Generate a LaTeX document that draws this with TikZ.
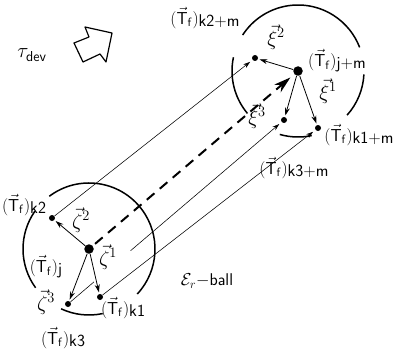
\documentclass[tikz,border=0pt]{standalone}
\usepackage{tikz}
\usetikzlibrary{arrows.meta,calc}
\tikzset{
  nd_big/.style={
    circle, fill=black, minimum size=9.5pt, inner sep=0pt},
  nd_pt/.style={
    circle, fill=black, minimum size=6pt, inner sep=0pt},
  ball/.style={line width=1.5pt},
  vec/.style={-{Stealth[length=8pt,width=5pt]},line width=0.8pt,shorten >=1.5pt},
  map/.style={-{Stealth[length=7pt,width=4.5pt]},line width=0.55pt,shorten >=3pt},
  dmap/.style={-{Stealth[length=17pt,width=10pt]},line width=2pt,
    dash pattern=on 10pt off 7pt,shorten >=5pt,shorten <=3pt},
  lbl/.style={font=\fontsize{17}{19}\selectfont,inner sep=0.5pt},
  glbl/.style={font=\fontsize{21}{23}\selectfont,inner sep=0.5pt},
}
\newcommand{\Tf}[1]{$(\vec{\mathsf{T}}_{\mathsf{f}})$\raisebox{-2.5pt}{\textsf{#1}}}

\begin{document}
\begin{tikzpicture}[x=1pt,y=-1pt]
\useasboundingbox (0,0) rectangle (396,353);

%% lower ball
\node[nd_big] at (89,249)  (j){};
\node[nd_pt]  at (52,218)  (k2){};
\node[nd_pt]  at (100,297) (k1){};
\node[nd_pt]  at (68,304)  (k3){};

%% upper ball
\node[nd_big] at (298,71)  (jm){};
\node[nd_pt]  at (255,58)  (k2m){};
\node[nd_pt]  at (284,120) (k3m){};
\node[nd_pt]  at (318,128) (k1m){};

% outlines, open where the labels sit
\draw[ball] (j.center) ++(-127:66) arc[start angle=-127,end angle=43,radius=66];
\draw[ball] (j.center) ++(144:66) arc[start angle=144,end angle=215,radius=66];
\draw[ball] (j.center) ++(78:66) arc[start angle=78,end angle=115,radius=66];
\draw[ball] (jm.center) ++(-147:66) arc[start angle=-147,end angle=-21,radius=66];
\draw[ball] (jm.center) ++(3:66) arc[start angle=3,end angle=42,radius=66];
\draw[ball] (jm.center) ++(78:66) arc[start angle=78,end angle=106,radius=66];
\draw[ball] (jm.center) ++(140:66) arc[start angle=140,end angle=192,radius=66];

%% labels
\node[glbl] at (32,55)   (tdev){$\tau_{\mathsf{dev}}$};
\node[lbl]  at (24,205)  (Lk2){\Tf{k2}};
\node[glbl] at (81,220)  (Lz2){$\vec{\zeta}^{2}$};
\node[lbl]  at (46,267)  (Lj){\Tf{j}};
\node[glbl] at (108,257) (Lz1){$\vec{\zeta}^{1}$};
\node[glbl] at (46,302)  (Lz3){$\vec{\zeta}^{3}$};
\node[lbl]  at (123,308) (Lk1){\Tf{k1}};
\node[lbl]  at (63,338)  (Lk3){\Tf{k3}};
\node[lbl]  at (207,281) (Lball){$\mathcal{E}_{r}-$\textsf{ball}};

\node[lbl]  at (205,18)  (Lk2m){\Tf{k2+m}};
\node[glbl] at (276,37)  (Lx2){$\vec{\xi}^{2}$};
\node[lbl]  at (337,61)  (Ljm){\Tf{j+m}};
\node[glbl] at (328,91)  (Lx1){$\vec{\xi}^{1}$};
\node[glbl] at (257,116) (Lx3){$\vec{\xi}^{3}$};
\node[lbl]  at (359,135) (Lk1m){\Tf{k1+m}};
\node[lbl]  at (294,168) (Lk3m){\Tf{k3+m}};

% hollow arrow next to tau_dev
\draw[line width=1.2pt,line join=round]
  (74,43)--(89,37)--(85,27)--(112,33)--(106,62)--(100,54)--(83,62)--cycle;

\draw[vec] (j)--(k2);  \draw[vec] (j)--(k1);  \draw[vec] (j)--(k3);
\draw[vec] (jm)--(k2m); \draw[vec] (jm)--(k1m); \draw[vec] (jm)--(k3m);

\draw[map] (k2)--(k2m);
\draw[map] (k1)--(k1m);
\draw[line width=0.55pt] (k3)--($(k3)!0.12!(k3m)$);
\draw[map] ($(k3)!0.29!(k3m)$)--(k3m);

\draw[dmap] (j)--(jm);

\end{tikzpicture}
\end{document}
